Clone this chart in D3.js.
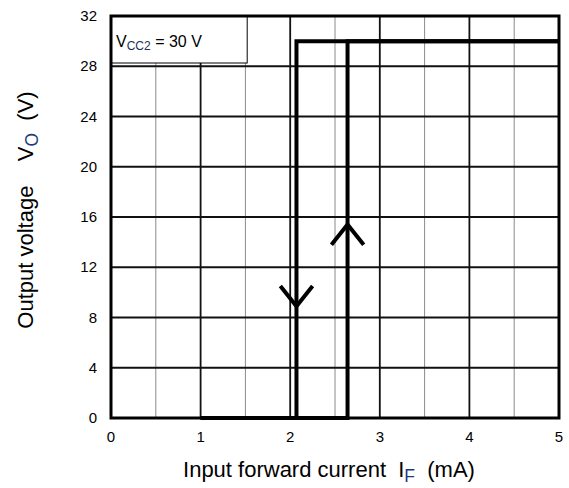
<!DOCTYPE html>
<html><head><meta charset="utf-8">
<script src="https://cdn.jsdelivr.net/npm/d3@7"></script>
<style>body{margin:0;background:#fff}svg{display:block}text{white-space:pre}</style>
</head><body>
<svg id="c" width="569" height="488"></svg>
<script>
const xTicks = [0, 1, 2, 3, 4, 5];
const xMinor = [0.5, 1.5, 2.5, 3.5, 4.5];
const yTicks = [0, 4, 8, 12, 16, 20, 24, 28, 32];
// hysteresis curve (IF in mA, VO in V)
const offX = [5, 2.07, 2.07, 1];
const offY = [30, 30, 0, 0];
const onX = [1, 2.64, 2.64, 5];
const onY = [0, 0, 30, 30];
// arrows: [IF, VO, direction]
const arrowX = [2.07, 2.64];
const arrowY = [8.9, 15.4];
const arrowDir = [-1, 1];
const vcc2 = 30;

const svg = d3.select("#c");
const L = 111, R = 559, T = 16, B = 418;
const x = d3.scaleLinear().domain([0, 5]).range([L, R]);
const y = d3.scaleLinear().domain([0, 32]).range([B, T]);
const font = "'Liberation Sans', Arial, sans-serif";

// minor vertical grid
svg.append("g").selectAll("line").data(xMinor).join("line")
  .attr("x1", d => x(d)).attr("x2", d => x(d)).attr("y1", T).attr("y2", B)
  .attr("stroke", "#8a8a8a").attr("stroke-width", 1);
// major vertical grid
svg.append("g").selectAll("line").data(xTicks.slice(1, -1)).join("line")
  .attr("x1", d => x(d)).attr("x2", d => x(d)).attr("y1", T).attr("y2", B)
  .attr("stroke", "#111").attr("stroke-width", 1.8);
// horizontal grid
svg.append("g").selectAll("line").data(yTicks.slice(1, -1)).join("line")
  .attr("y1", d => y(d)).attr("y2", d => y(d)).attr("x1", L).attr("x2", R)
  .attr("stroke", "#111").attr("stroke-width", 2);

// legend box
svg.append("rect").attr("x", L).attr("y", T).attr("width", x(1.52) - L).attr("height", 47)
  .attr("fill", "#fff").attr("stroke", "#000").attr("stroke-width", 1);
const lt = svg.append("text").attr("x", L + 5).attr("y", 47)
  .attr("font-family", font).attr("font-size", 16).attr("fill", "#000");
lt.append("tspan").text("V");
lt.append("tspan").text("CC2").attr("font-size", 12).attr("dy", 3).attr("fill", "#1a2f55");
lt.append("tspan").text(" = " + vcc2 + " V").attr("dy", -3);

// frame
svg.append("rect").attr("x", L).attr("y", T).attr("width", R - L).attr("height", B - T)
  .attr("fill", "none").attr("stroke", "#000").attr("stroke-width", 3);

// curves
const line = d3.line().x(d => x(d[0])).y(d => y(d[1]));
[[offX, offY], [onX, onY]].forEach(([xs, ys]) => {
  svg.append("path").attr("d", line(xs.map((v, i) => [v, ys[i]])))
    .attr("fill", "none").attr("stroke", "#000").attr("stroke-width", 4)
    .attr("stroke-linejoin", "miter");
});
// arrows
arrowX.forEach((ax, i) => {
  const dir = arrowDir[i];
  const pts = [[ax - 0.18, arrowY[i] - dir * 1.6], [ax, arrowY[i]], [ax + 0.18, arrowY[i] - dir * 1.6]];
  svg.append("path").attr("d", line(pts)).attr("fill", "none")
    .attr("stroke", "#000").attr("stroke-width", 4).attr("stroke-linejoin", "miter");
});

// tick labels
svg.append("g").selectAll("text").data(xTicks).join("text")
  .attr("x", d => x(d)).attr("y", 442).attr("text-anchor", "middle")
  .attr("font-family", font).attr("font-size", 15).attr("fill", "#000").text(d => d);
svg.append("g").selectAll("text").data(yTicks).join("text")
  .attr("x", 97).attr("y", d => y(d) + 5).attr("text-anchor", "end")
  .attr("font-family", font).attr("font-size", 15).attr("fill", "#000").text(d => d);

// axis titles
const xt = svg.append("text").attr("x", 329).attr("y", 477).attr("text-anchor", "middle")
  .attr("font-family", font).attr("font-size", 22).attr("fill", "#000");
xt.append("tspan").text("Input forward current  I");
xt.append("tspan").text("F").attr("font-size", 17.5).attr("dy", 5).attr("fill", "#1a3a7a");
xt.append("tspan").text("  (mA)").attr("dy", -5);

const yt = svg.append("text").attr("transform", "translate(33,210) rotate(-90)")
  .attr("text-anchor", "middle").attr("font-family", font).attr("font-size", 22).attr("fill", "#000");
yt.append("tspan").text("Output voltage    V");
yt.append("tspan").text("O").attr("font-size", 17.5).attr("dy", 5).attr("fill", "#1a3a7a");
yt.append("tspan").text("  (V)").attr("dy", -5);
</script>
</body></html>
